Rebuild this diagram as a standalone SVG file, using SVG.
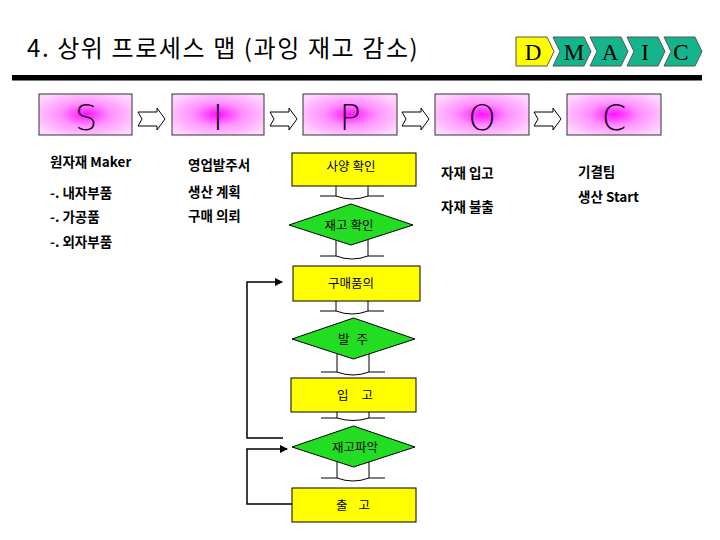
<svg xmlns="http://www.w3.org/2000/svg" width="720" height="540" viewBox="0 0 720 540">
<defs>
<radialGradient id="pk" cx="0.5" cy="0.5" r="0.6">
<stop offset="0" stop-color="#ff10ff"/>
<stop offset="0.45" stop-color="#ff90ff"/>
<stop offset="1" stop-color="#ffd6ff"/>
</radialGradient>
<marker id="ah" markerWidth="8" markerHeight="8" refX="7" refY="4" orient="auto" markerUnits="userSpaceOnUse">
<path d="M0,0 L8,4 L0,8 Z" fill="#000"/>
</marker>
</defs>
<style>
.title{font-family:"Noto Sans CJK KR","Liberation Sans",sans-serif;font-size:24px;letter-spacing:1.6px;fill:#000}
.dm{font-family:"Liberation Serif",serif;font-size:23px;fill:#000;text-anchor:middle}
.chev{stroke:#555;stroke-width:1}
.sip{fill:url(#pk);stroke:#333;stroke-width:1}
.sl{font-family:"DejaVu Sans","Liberation Sans",sans-serif;font-weight:200;font-size:35px;fill:#220022;text-anchor:middle}
.ba{fill:#fff;stroke:#000;stroke-width:1}
.b{font-family:"Noto Sans CJK KR","Liberation Sans",sans-serif;font-size:13.5px;font-weight:bold;fill:#000}
.yb{fill:#ffff00;stroke:#000;stroke-width:1}
.gd{fill:#22dd22;stroke:#000;stroke-width:1}
.ft{font-family:"Noto Sans CJK KR","Liberation Sans",sans-serif;font-size:12.5px;fill:#000;text-anchor:middle}
.cn{fill:none;stroke:#000;stroke-width:1}
.lp{fill:none;stroke:#000;stroke-width:1.5}
</style>
<rect width="720" height="540" fill="#fff"/>
<text class="title" x="27" y="57">4. 상위 프로세스 맵 (과잉 재고 감소)</text>
<rect x="12" y="75" width="690" height="5.5" fill="#000"/>
<g id="dmaic">
<path class="chev" fill="#ffff00" d="M516,37 H547 L554,51.5 L547,66 H516 Z"/>
<path class="chev" fill="#14b48c" d="M553,37 H584 L591,51.5 L584,66 H553 L560,51.5 Z"/>
<path class="chev" fill="#14b48c" d="M590,37 H621 L628,51.5 L621,66 H590 L597,51.5 Z"/>
<path class="chev" fill="#14b48c" d="M627,37 H658 L665,51.5 L658,66 H627 L634,51.5 Z"/>
<path class="chev" fill="#14b48c" d="M664,37 H695 L702,51.5 L695,66 H664 L671,51.5 Z"/>
<text class="dm" x="533" y="60">D</text>
<text class="dm" x="574" y="60">M</text>
<text class="dm" x="610" y="60">A</text>
<text class="dm" x="645" y="60">I</text>
<text class="dm" x="681" y="60">C</text>
</g>
<g id="sipoc">
<g id="s"><rect class="sip" x="39" y="94" width="93" height="41"/><text class="sl" x="86" y="130">S</text></g>
<g id="i"><rect class="sip" x="172" y="94" width="92" height="41"/><text class="sl" x="218" y="130">I</text></g>
<g id="p"><rect class="sip" x="303" y="94" width="94" height="41"/><text class="sl" x="350" y="130">P</text></g>
<g id="o"><rect class="sip" x="435" y="94" width="94" height="41"/><text class="sl" x="482" y="130">O</text></g>
<g id="c"><rect class="sip" x="567" y="94" width="94" height="41"/><text class="sl" x="614" y="130">C</text></g>
</g>
<g id="blockarrows">
<path class="ba" d="M138,112 H157 V108 L165,119 L157,130 V126 H138 L142,119 Z"/>
<path class="ba" d="M270,112 H289 V108 L297,119 L289,130 V126 H270 L274,119 Z"/>
<path class="ba" d="M402,112 H421 V108 L429,119 L421,130 V126 H402 L406,119 Z"/>
<path class="ba" d="M534,112 H553 V108 L561,119 L553,130 V126 H534 L538,119 Z"/>
</g>
<g id="lists">
<text class="b" x="50" y="167">원자재 Maker</text>
<text class="b" x="50" y="198">-. 내자부품</text>
<text class="b" x="50" y="222">-. 가공품</text>
<text class="b" x="50" y="247">-. 외자부품</text>
<text class="b" x="188" y="170">영업발주서</text>
<text class="b" x="188" y="197">생산 계획</text>
<text class="b" x="188" y="221">구매 의뢰</text>
<text class="b" x="441" y="178">자재 입고</text>
<text class="b" x="441" y="212">자재 불출</text>
<text class="b" x="578" y="177">기결팀</text>
<text class="b" x="578" y="202">생산 Start</text>
</g>
<g id="connectors">
<path class="cn" d="M336,175 V196 M368,175 V196 M320,196 H336 Q352,202 368,196 H384"/>
<path class="cn" d="M336,230 V256 M368,230 V256 M320,256 H336 Q352,262 368,256 H384"/>
<path class="cn" d="M336,290 V311 M368,290 V311 M320,311 H336 Q352,317 368,311 H384"/>
<path class="cn" d="M337,345 V372 M369,345 V372 M321,372 H337 Q353,378 369,372 H385"/>
<path class="cn" d="M337,400 V418 M369,400 V418 M321,418 H337 Q353,423 369,418 H385"/>
<path class="cn" d="M337,452 V478 M369,452 V478 M321,478 H337 Q353,484 369,478 H385"/>
<path class="lp" d="M283,438 H247 V282 H282" marker-end="url(#ah)"/>
<path class="lp" d="M292,504 H247 V449 H287" marker-end="url(#ah)"/>
</g>
<g id="n1"><rect class="yb" x="292" y="153" width="124" height="33"/><text class="ft" x="351" y="171">사양 확인</text></g>
<g id="n2"><path class="gd" d="M289,225 L351,204 L413,225 L351,245 Z"/><text class="ft" x="349" y="230">재고 확인</text></g>
<g id="n3"><rect class="yb" x="293" y="266" width="127" height="35"/><text class="ft" x="351" y="288">구매품의</text></g>
<g id="n4"><path class="gd" d="M292,339 L353.5,318 L415,339 L353.5,359 Z"/><text class="ft" x="353" y="344" word-spacing="4">발 주</text></g>
<g id="n5"><rect class="yb" x="291" y="378" width="125" height="34"/><text class="ft" x="355" y="400" word-spacing="10">입 고</text></g>
<g id="n6"><path class="gd" d="M292,447 L353.5,426 L415,447 L353.5,467 Z"/><text class="ft" x="355" y="452">재고파악</text></g>
<g id="n7"><rect class="yb" x="292" y="488" width="124" height="34"/><text class="ft" x="353" y="510" word-spacing="8">출 고</text></g>
</svg>
